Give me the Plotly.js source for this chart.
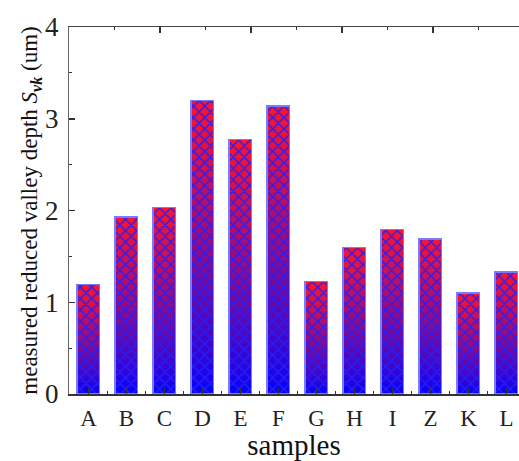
<!DOCTYPE html>
<html>
<head>
<meta charset="utf-8">
<script src="https://cdn.plot.ly/plotly-3.0.1.min.js"></script>
<style>html,body{margin:0;padding:0;background:#fff;}#chart{width:519px;height:461px;}</style>
</head>
<body>
<div id="chart"></div>
<script>
const categories = ['A','B','C','D','E','F','G','H','I','Z','K','L'];
const svkValues = [1.19, 1.93, 2.03, 3.20, 2.77, 3.14, 1.23, 1.60, 1.79, 1.69, 1.10, 1.33];
const yTickVals = [0, 1, 2, 3, 4];

const positions = categories.map((c, i) => i);
const N = 30;
const traces = [];
function mix(t) {
  const tt = Math.pow(t, 0.8);
  const r = Math.round(255 * tt);
  const g = Math.round(20 * tt);
  const b = Math.round(255 * (1 - tt) + 40 * tt);
  return 'rgb(' + r + ',' + g + ',' + b + ')';
}
for (let k = 0; k < N; k++) {
  const t = (k + 0.5) / N;
  const col = mix(t);
  traces.push({
    type: 'bar',
    x: positions,
    y: svkValues.map(v => v / N),
    width: 0.6,
    marker: {
      color: col,
      line: {width: 0},
      pattern: {shape: 'x', fillmode: 'replace', bgcolor: col, fgcolor: '#2020ff', size: 8, solidity: 0.32}
    },
    hoverinfo: 'skip',
    showlegend: false
  });
}
// outline trace
traces.push({
  type: 'bar',
  x: positions,
  y: svkValues,
  width: 0.6,
  xaxis: 'x',
  yaxis: 'y2',
  marker: {color: 'rgba(0,0,0,0)', line: {width: 1.2, color: '#7a7aff'}},
  hoverinfo: 'skip',
  showlegend: false
});
// top axis helper trace (invisible)
traces.push({
  type: 'scatter', x: [0], y: [0], xaxis: 'x2', yaxis: 'y',
  mode: 'markers', marker: {opacity: 0}, hoverinfo: 'skip', showlegend: false
});

const plotW = 450;
const catPx = 38;
const x0 = -0.513;
const layout = {
  width: 519, height: 461,
  margin: {l: 69, r: 0, t: 27, b: 67},
  paper_bgcolor: '#fff', plot_bgcolor: '#fff',
  barmode: 'stack',
  font: {family: '"Liberation Serif", "Times New Roman", serif', color: '#111'},
  xaxis: {
    type: 'linear',
    range: [x0, x0 + plotW / catPx],
    tickvals: positions, ticktext: categories,
    ticks: 'inside', ticklen: 6, tickwidth: 1.5, tickcolor: '#333',
    minor: {tick0: 0.5, dtick: 1, ticks: 'inside', ticklen: 3, tickwidth: 1, tickcolor: '#333'},
    showline: true, linecolor: '#333', linewidth: 1.5,
    showgrid: false, zeroline: false,
    tickfont: {size: 23, family: '"Liberation Serif", serif', color: '#222'},
    ticklabelstandoff: 3,
    title: {text: 'samples', font: {size: 29, family: '"Liberation Serif", serif', color: '#111'}, standoff: 3}
  },
  xaxis2: {
    overlaying: 'x', side: 'top', type: 'linear',
    range: [0, plotW / 91],
    dtick: 1, tick0: 0,
    ticks: 'inside', ticklen: 6, tickwidth: 1.5, tickcolor: '#333',
    minor: {dtick: 0.5, ticks: 'inside', ticklen: 3, tickwidth: 1, tickcolor: '#333'},
    showline: true, linecolor: '#444', linewidth: 1.5,
    showticklabels: false, showgrid: false, zeroline: false
  },
  yaxis: {
    range: [0, 4],
    tickvals: yTickVals,
    ticks: 'inside', ticklen: 6, tickwidth: 1.5, tickcolor: '#333',
    minor: {dtick: 0.5, ticks: 'inside', ticklen: 3, tickwidth: 1, tickcolor: '#333'},
    showline: true, linecolor: '#666', linewidth: 1.2,
    showgrid: false, zeroline: false,
    tickfont: {size: 27, family: '"Liberation Serif", serif', color: '#222'},
    ticklabelstandoff: 4,
    title: {text: 'measured reduced valley depth <i>S</i><sub><b><i>vk</i></b></sub> (um)', font: {size: 23, family: '"Liberation Serif", serif', color: '#111'}, standoff: 0}
  },
  yaxis2: {
    overlaying: 'y', range: [0, 4], visible: false
  }
};
Plotly.newPlot('chart', traces, layout, {staticPlot: true, displayModeBar: false});
</script>
</body>
</html>
